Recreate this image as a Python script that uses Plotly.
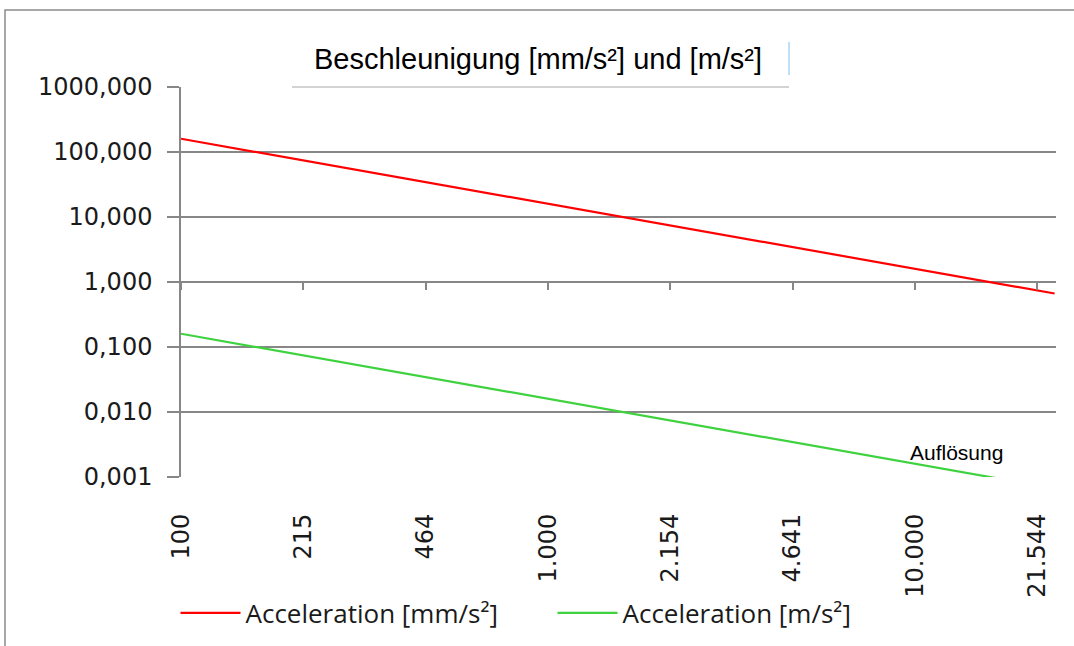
import plotly.graph_objects as go

# Frequencies (categories of the x axis)
freq = [100, 111, 124, 138, 155, 173, 193, 215, 240, 268, 299, 334, 372, 415, 464, 517, 577, 644, 719, 803, 896,
        1000, 1115, 1245, 1389, 1550, 1730, 1930, 2154, 2404, 2682, 2993, 3340, 3727, 4159, 4641,
        5179, 5779, 6449, 7196, 8030, 8961, 10000, 11158, 12451, 13894, 15505, 17301, 19306, 21544, 24040]

# Acceleration in mm/s^2
acc_mm = [160.0, 143.4, 128.5, 115.1, 103.2, 92.47, 82.87, 74.27, 66.55, 59.64,
          53.45, 47.90, 42.92, 38.47, 34.47, 30.89, 27.68, 24.81, 22.23, 19.92,
          17.85, 16.00, 14.34, 12.85, 11.51, 10.32, 9.247, 8.287, 7.427, 6.655,
          5.964, 5.345, 4.790, 4.292, 3.847, 3.447, 3.089, 2.768, 2.481, 2.223,
          1.992, 1.785, 1.600, 1.434, 1.285, 1.151, 1.032, 0.9247, 0.8287, 0.7427,
          0.6655]

# Acceleration in m/s^2
acc_m = [0.1600, 0.1434, 0.1285, 0.1151, 0.1032, 0.09247, 0.08287, 0.07427, 0.06655, 0.05964,
         0.05345, 0.04790, 0.04292, 0.03847, 0.03447, 0.03089, 0.02768, 0.02481, 0.02223, 0.01992,
         0.01785, 0.01600, 0.01434, 0.01285, 0.01151, 0.01032, 0.009247, 0.008287, 0.007427, 0.006655,
         0.005964, 0.005345, 0.004790, 0.004292, 0.003847, 0.003447, 0.003089, 0.002768, 0.002481, 0.002223,
         0.001992, 0.001785, 0.001600, 0.001434, 0.001285, 0.001151, 0.001032, 0.0009247, 0.0008287, 0.0007427,
         0.0006655]

y_ticks = [0.001, 0.01, 0.1, 1, 10, 100, 1000]
y_tick_text = ["0,001", "0,010", "0,100", "1,000", "10,000", "100,000", "1000,000"]

title_text = "Beschleunigung [mm/s²] und [m/s²]"
note_text = "Auflösung"
name_mm = "Acceleration [mm/s²]"
name_m = "Acceleration [m/s²]"

cats = [f"{v:,}".replace(",", ".") for v in freq]
label_step = 7
tick_cats = cats[::label_step]

W, H = 1074, 646
PL, PR, PT, PB = 181, 1056, 87, 477  # plot area in window pixels
L, T, R, B = PL, PT, W - PR, H - PB
pw, ph = PR - PL, PB - PT


def px(x):
    return (x - PL) / pw


def py(y):
    return (PB - y) / ph


GRID = "#878787"
TICKFONT = dict(family="DejaVu Sans", size=24, color="#1a1a1a")
LEGFONT = dict(family="Open Sans", size=26, color="#1a1a1a")

fig = go.Figure()
fig.add_trace(go.Scatter(x=cats, y=acc_mm, mode="lines", name=name_mm,
                         line=dict(color="#ff0000", width=2.2), legend="legend"))
fig.add_trace(go.Scatter(x=cats, y=acc_m, mode="lines", name=name_m, xaxis="x2",
                         line=dict(color="#3fd23f", width=2.2), legend="legend2"))

xrange = [0, len(cats) - 1 + 0.08]

fig.update_layout(
    width=W, height=H,
    margin=dict(l=L, r=R, t=T, b=B, autoexpand=False),
    paper_bgcolor="white", plot_bgcolor="white",
    xaxis=dict(type="category", categoryorder="array", categoryarray=cats, range=xrange,
               tickmode="array", tickvals=tick_cats, ticktext=tick_cats, tickangle=-90,
               ticks="", showgrid=False, showline=False, zeroline=False,
               ticklabelstandoff=31, tickfont=TICKFONT, automargin=False),
    xaxis2=dict(type="category", categoryorder="array", categoryarray=cats, range=xrange,
                overlaying="x", anchor="free", position=0.5, side="bottom",
                tickmode="array", tickvals=tick_cats, ticks="outside", ticklen=7,
                tickcolor=GRID, tickwidth=1.5, showticklabels=False, showgrid=False,
                showline=False, zeroline=False, automargin=False),
    yaxis=dict(type="log", range=[-3, 3], tickmode="array", tickvals=y_ticks, ticktext=y_tick_text,
               showgrid=True, gridcolor=GRID, gridwidth=1.5,
               showline=True, linecolor=GRID, linewidth=1.5,
               ticks="outside", ticklen=12, tickcolor=GRID, tickwidth=1.5,
               ticklabelstandoff=10, tickfont=TICKFONT, automargin=False),
    legend=dict(x=px(175.5), y=py(613), xanchor="left", yanchor="middle", orientation="h",
                font=LEGFONT, itemwidth=60, bgcolor="rgba(0,0,0,0)"),
    legend2=dict(x=px(552.5), y=py(613), xanchor="left", yanchor="middle", orientation="h",
                 font=LEGFONT, itemwidth=60, bgcolor="rgba(0,0,0,0)"),
    showlegend=True,
)

# Title box edge over the top gridline, and the thin blue cursor mark
fig.add_shape(type="line", xref="paper", yref="paper", x0=px(292), x1=px(789), y0=1, y1=1,
              line=dict(color="#c4c4c4", width=1.5), layer="above")
fig.add_shape(type="line", xref="paper", yref="paper", x0=px(789), x1=px(789), y0=py(42), y1=py(75),
              line=dict(color="#a8d4f2", width=1.5), layer="above")
# Outer chart border
fig.add_shape(type="rect", xref="paper", yref="paper", x0=px(5), x1=px(1095), y0=py(10), y1=py(670),
              line=dict(color="#8c8c8c", width=1.5), fillcolor="rgba(0,0,0,0)", layer="above")

fig.add_annotation(text=title_text, xref="paper", yref="paper", x=px(538), y=py(59),
                   xanchor="center", yanchor="middle", showarrow=False,
                   font=dict(family="Liberation Sans, Arial", size=29, color="#000000"))
fig.add_annotation(text=note_text, xref="paper", yref="paper", x=px(956), y=py(452),
                   xanchor="center", yanchor="middle", showarrow=False,
                   font=dict(family="Liberation Sans, Arial", size=21, color="#000000"))

fig.write_html("out.html", config={"displayModeBar": False},
               post_script="document.body.style.margin='0';")
